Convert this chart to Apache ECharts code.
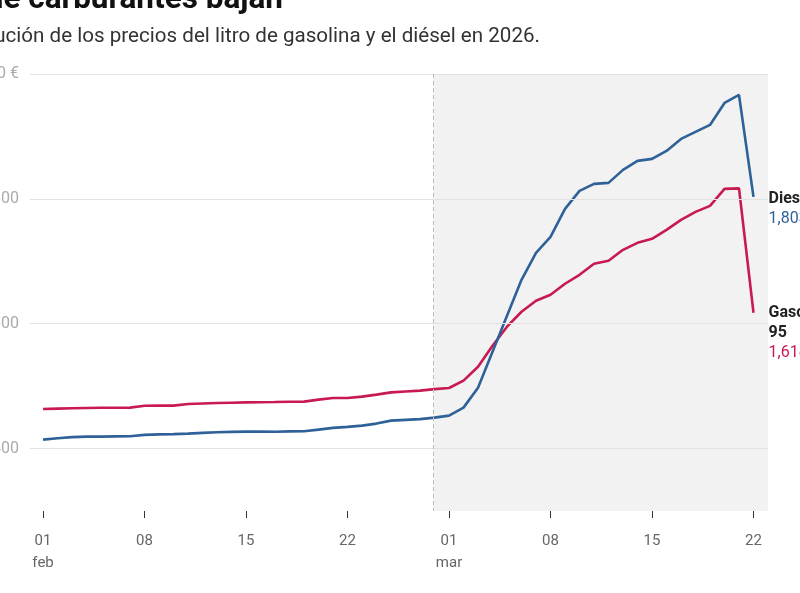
<!DOCTYPE html>
<html>
<head>
<meta charset="utf-8">
<script src="https://cdn.jsdelivr.net/npm/echarts@6/dist/echarts.min.js"></script>
<style>
html,body{margin:0;padding:0;background:#fff;overflow:hidden;}
#chart{width:800px;height:593px;}
</style>
</head>
<body>
<div id="chart"></div>
<script>
const dates = [
  '01 feb','02 feb','03 feb','04 feb','05 feb','06 feb','07 feb','08 feb','09 feb','10 feb',
  '11 feb','12 feb','13 feb','14 feb','15 feb','16 feb','17 feb','18 feb','19 feb','20 feb',
  '21 feb','22 feb','23 feb','24 feb','25 feb','26 feb','27 feb','28 feb',
  '01 mar','02 mar','03 mar','04 mar','05 mar','06 mar','07 mar','08 mar','09 mar','10 mar',
  '11 mar','12 mar','13 mar','14 mar','15 mar','16 mar','17 mar','18 mar','19 mar','20 mar',
  '21 mar','22 mar'
];
const gasolina95 = [
  1.4635,1.464,1.4645,1.465,1.4653,1.4655,1.4656,1.4685,1.4688,1.4688,
  1.4715,1.4723,1.473,1.4735,1.474,1.4743,1.4746,1.475,1.4752,1.4784,
  1.481,1.481,1.4832,1.4864,1.490,1.4915,1.4928,1.4952,
  1.497,1.5088,1.531,1.5648,1.5952,1.6192,1.6368,1.6464,1.664,1.6784,
  1.696,1.7008,1.7184,1.7296,1.736,1.7504,1.7664,1.7792,1.7888,1.816,
  1.8168,1.6176
];
const diesel = [
  1.4144,1.4165,1.4184,1.4192,1.4192,1.4195,1.4197,1.422,1.4227,1.4232,
  1.424,1.4251,1.4261,1.4267,1.4272,1.4272,1.4269,1.4275,1.4277,1.4304,
  1.4331,1.4347,1.4368,1.44,1.4448,1.446,1.4472,1.4496,
  1.4528,1.4656,1.4976,1.5552,1.6128,1.6704,1.7136,1.7392,1.784,1.8128,
  1.824,1.8256,1.8464,1.8608,1.864,1.8768,1.896,1.9072,1.9184,1.9536,
  1.9664,1.8032
];
const yTicks = [1.4, 1.6, 1.8, 2.0];
const xTickIdx = [0, 7, 14, 21, 28, 35, 42, 49];
const titleText = 'Los precios de carburantes bajan';
const subtitleText = 'Evolución de los precios del litro de gasolina y el diésel en 2026.';
const dieselLabel = ['Diesel', '1,803 €'];
const gasLabel = ['Gasolina', '95', '1,618 €'];

const FONT = 'Roboto, "Noto Sans", sans-serif';
const BLUE = '#2f6199';
const RED = '#c81a50';

const chart = echarts.init(document.getElementById('chart'), null, {renderer: 'canvas'});

function fmtY(v) {
  const s = v.toFixed(3).replace('.', ',');
  return Math.abs(v - 2.0) < 1e-6 ? s + ' €' : s;
}
function fmtX(v) {
  const i = Math.round(v);
  const d = dates[i];
  if (!d) return '';
  const [day, mon] = d.split(' ');
  return (day === '01') ? day + '\n' + mon : day;
}

const option = {
  animation: false,
  textStyle: {fontFamily: FONT},
  grid: {left: 30, right: 32, top: 74, bottom: 82, containLabel: false, outerBoundsMode: 'none'},
  graphic: [
    {type: 'text', right: 517, top: -16, style: {text: titleText, font: 'bold 31.5px ' + FONT, fill: '#111', textAlign: 'right'}},
    {type: 'text', right: 260, top: 26, style: {text: subtitleText, font: '20.6px ' + FONT, fill: '#333', textAlign: 'right'}}
  ],
  xAxis: {
    type: 'value', min: -0.9, max: 50,
    axisLine: {show: false},
    splitLine: {show: false},
    axisTick: {show: true, length: 7, lineStyle: {color: '#333', width: 1}, customValues: xTickIdx},
    axisLabel: {customValues: xTickIdx, formatter: fmtX, color: '#666', fontSize: 15, fontFamily: FONT, margin: 19, lineHeight: 22}
  },
  yAxis: {
    type: 'value', min: 1.3, max: 2.0,
    axisLine: {show: false},
    axisTick: {show: false},
    splitLine: {show: false},
    axisLabel: {customValues: yTicks, formatter: fmtY, color: '#aaa', fontSize: 16, fontFamily: FONT, margin: 11}
  },
  series: [
    {
      name: 'bg', type: 'line', data: [], silent: true, z: 1,
      markArea: {
        silent: true,
        itemStyle: {color: '#f2f2f2'},
        data: [[{xAxis: 26.9, yAxis: 2.0}, {xAxis: 50, yAxis: 1.3}]]
      },
      markLine: {
        silent: true, symbol: 'none', label: {show: false},
        lineStyle: {color: '#e2e2e2', width: 1, type: 'solid'},
        data: yTicks.map(v => ({yAxis: v})).concat([
          [{xAxis: 26.9, yAxis: 2.0, lineStyle: {color: '#bbb', type: [4, 3], width: 1}},
           {xAxis: 26.9, yAxis: 1.3}]
        ])
      }
    },
    {
      name: 'Gasolina 95', type: 'line', z: 3,
      data: gasolina95.map((v, i) => [i, v]),
      showSymbol: false, symbol: 'none',
      lineStyle: {color: RED, width: 2.6},
      itemStyle: {color: RED},
      endLabel: {
        show: true, distance: 15, verticalAlign: 'top', offset: [0, -10],
        formatter: () => '{n|' + gasLabel[0] + '}\n{n|' + gasLabel[1] + '}\n{v|' + gasLabel[2] + '}',
        rich: {
          n: {fontSize: 16, fontWeight: 'bold', color: '#222', fontFamily: FONT, lineHeight: 20},
          v: {fontSize: 16, color: RED, fontFamily: FONT, lineHeight: 21}
        }
      }
    },
    {
      name: 'Diesel', type: 'line', z: 4,
      data: diesel.map((v, i) => [i, v]),
      showSymbol: false, symbol: 'none',
      lineStyle: {color: BLUE, width: 2.6},
      itemStyle: {color: BLUE},
      endLabel: {
        show: true, distance: 15, verticalAlign: 'top', offset: [0, -8],
        formatter: () => '{n|' + dieselLabel[0] + '}\n{v|' + dieselLabel[1] + '}',
        rich: {
          n: {fontSize: 16, fontWeight: 'bold', color: '#222', fontFamily: FONT, lineHeight: 20},
          v: {fontSize: 16, color: BLUE, fontFamily: FONT, lineHeight: 20}
        }
      }
    }
  ]
};
chart.setOption(option);
</script>
</body>
</html>
